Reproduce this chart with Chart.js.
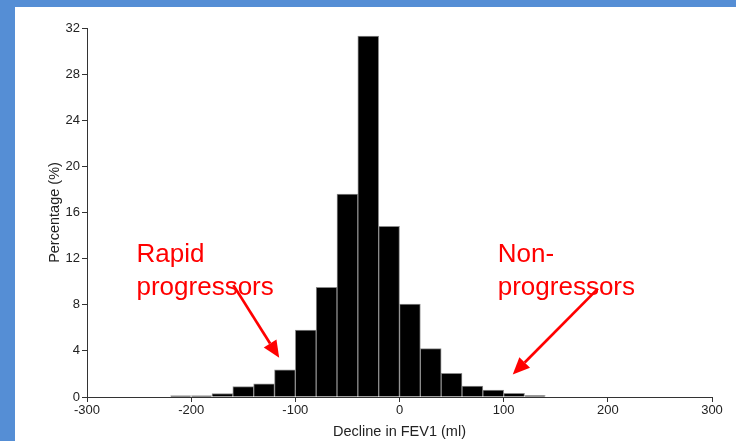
<!DOCTYPE html>
<html><head><meta charset="utf-8">
<script src="https://cdn.jsdelivr.net/npm/chart.js@4.4.1/dist/chart.umd.min.js"></script>
<style>
html,body{margin:0;padding:0;background:#558ED5;width:736px;height:441px;overflow:hidden}
#panel{position:absolute;left:15px;top:7px;width:721px;height:434px;background:#fff}
canvas{display:block}
</style></head><body>
<div id="panel"><canvas id="c" width="721" height="434"></canvas></div>
<script>
// Histogram bins (centre of each 20 ml bin) and percentage of subjects
const binCenters = [-210,-190,-170,-150,-130,-110,-90,-70,-50,-30,-10,10,30,50,70,90,110,130];
const percentages = [0.1,0.1,0.3,0.9,1.15,2.35,5.8,9.5,17.6,31.3,14.8,8.05,4.2,2.05,0.95,0.6,0.32,0.13];
const xTicks = [-300,-200,-100,0,100,200,300];
const yTicks = [0,4,8,12,16,20,24,28,32];
const xTitle = 'Decline in FEV1 (ml)';
const yTitle = 'Percentage (%)';
// annotation texts [text, x value, y value]
const noteTexts = [
  ['Rapid', -252.5, 11.71],
  ['progressors', -252.5, 8.85],
  ['Non-', 94.3, 11.71],
  ['progressors', 94.3, 8.85]
];
// arrows [x0, y0, x1(tip), y1(tip)] in data units
const noteArrows = [
  [-159.5, 9.7, -115.5, 3.4],
  [190.5, 9.4, 108.7, 1.95]
];

Chart.defaults.font.family = "'Liberation Sans', Arial, sans-serif";
Chart.defaults.color = '#222';

const annot = {
  id: 'annot',
  afterDraw(chart) {
    const {ctx, scales:{x, y}} = chart;
    ctx.save();
    ctx.fillStyle = '#FF0000';
    ctx.strokeStyle = '#FF0000';
    ctx.font = "26px 'Liberation Sans', Arial, sans-serif";
    ctx.textBaseline = 'alphabetic';
    ctx.textAlign = 'left';
    noteTexts.forEach(([t, vx, vy]) => ctx.fillText(t, x.getPixelForValue(vx), y.getPixelForValue(vy)));
    ctx.lineWidth = 2.7;
    noteArrows.forEach(([ax, ay, bx, by]) => {
      const x0 = x.getPixelForValue(ax), y0 = y.getPixelForValue(ay);
      const x1 = x.getPixelForValue(bx), y1 = y.getPixelForValue(by);
      const ang = Math.atan2(y1 - y0, x1 - x0);
      const L = 17, W = 7.5;
      const bxp = x1 - L * Math.cos(ang), byp = y1 - L * Math.sin(ang);
      ctx.beginPath();
      ctx.moveTo(x0, y0);
      ctx.lineTo(bxp, byp);
      ctx.stroke();
      ctx.beginPath();
      ctx.moveTo(x1, y1);
      ctx.lineTo(bxp + W * Math.sin(ang), byp - W * Math.cos(ang));
      ctx.lineTo(bxp - W * Math.sin(ang), byp + W * Math.cos(ang));
      ctx.closePath();
      ctx.fill();
    });
    ctx.restore();
  }
};

new Chart(document.getElementById('c'), {
  type: 'bar',
  data: {
    datasets: [{
      data: binCenters.map((c, i) => ({x: c, y: percentages[i]})),
      backgroundColor: '#000',
      borderColor: '#8a8a8a',
      borderWidth: 1,
      barPercentage: 1,
      categoryPercentage: 1
    }]
  },
  options: {
    responsive: false,
    animation: false,
    devicePixelRatio: 1,
    layout: {padding: {left: 0, right: 24, top: 21, bottom: 0}},
    plugins: {legend: {display: false}, tooltip: {enabled: false}},
    scales: {
      x: {
        type: 'linear',
        offset: false,
        min: -300, max: 300,
        afterBuildTicks: s => { s.ticks = xTicks.map(v => ({value: v})); },
        afterFit: s => { s.height = 44; },
        grid: {display: true, offset: false, drawOnChartArea: false, drawTicks: true, tickLength: 5, color: '#333'},
        border: {display: true, color: '#333', width: 1},
        ticks: {font: {size: 13}, padding: 1, maxRotation: 0, color: '#222'},
        title: {display: true, text: xTitle, font: {size: 14.5}, color: '#222', padding: {top: 0, bottom: 0}}
      },
      y: {
        min: 0, max: 32,
        afterBuildTicks: s => { s.ticks = yTicks.map(v => ({value: v})); },
        afterFit: s => { s.width = 72; },
        grid: {display: true, drawOnChartArea: false, drawTicks: true, tickLength: 5, color: '#333'},
        border: {display: true, color: '#333', width: 1},
        ticks: {font: {size: 13}, padding: 2, color: '#222'},
        title: {display: true, text: yTitle, font: {size: 14.5}, color: '#222', padding: {top: 31, bottom: 0}}
      }
    }
  },
  plugins: [annot]
});
</script>
</body></html>
